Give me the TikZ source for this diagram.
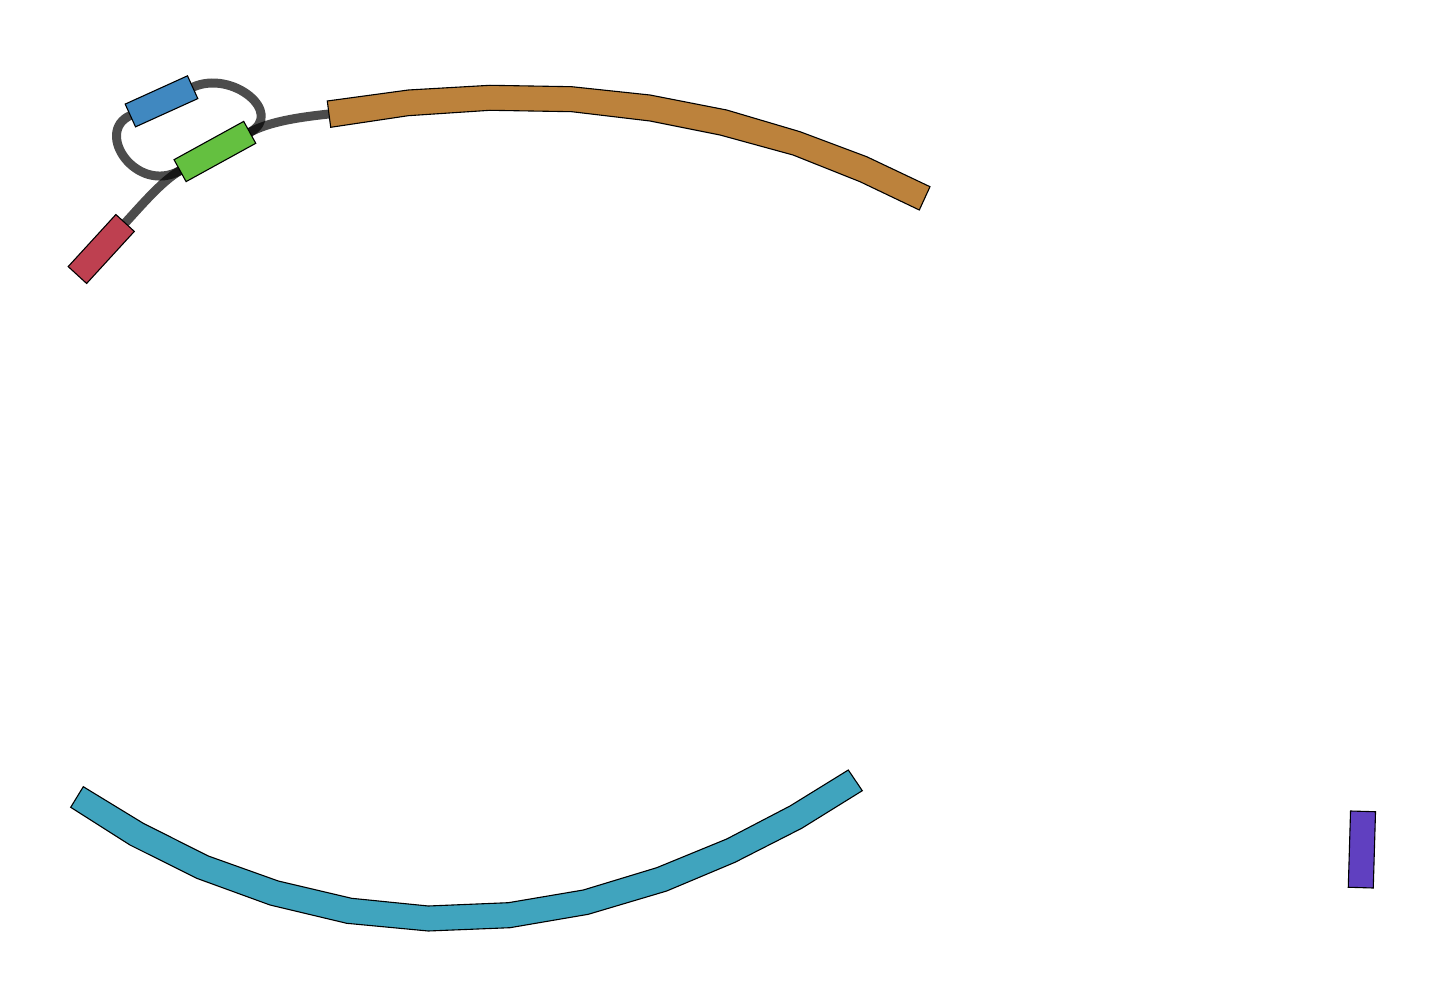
\documentclass[tikz,border=0pt]{standalone}
\usepackage{tikz}
\usetikzlibrary{backgrounds}
\definecolor{segRed}{HTML}{BE4050}
\definecolor{segBlue}{HTML}{4088C0}
\definecolor{segGreen}{HTML}{64C040}
\definecolor{segOrange}{HTML}{BC823C}
\definecolor{segCyan}{HTML}{40A4BE}
\definecolor{segPurple}{HTML}{6040C0}
\begin{document}
\begin{tikzpicture}[x=1pt, y=-1pt,
  contig/.style={rectangle, draw=black, line width=1.1pt, inner sep=0pt, outer sep=0pt, minimum height=25pt},
  band/.style={draw=black, line width=1.1pt, line join=miter},
  link/.style={draw=black, draw opacity=0.7, line width=9pt}]

\useasboundingbox (0,0) rectangle (1444,1000);

\node[contig, fill=segRed, minimum width=70.6pt, rotate=47.5] (red) at (101.25,249) {};
\node[contig, fill=segBlue, minimum width=68.4pt, rotate=24.4] (blue) at (161.5,101.35) {};
\node[contig, fill=segGreen, minimum width=79.5pt, rotate=28.8] (green) at (214.9,151.5) {};
\node[contig, fill=segPurple, minimum width=76.3pt, rotate=88.3] (purple) at (1361.9,849.5) {};

\coordinate (orangeW) at (329,114);
\coordinate (orangeE) at (924.7,198.3);
\coordinate (cyanW) at (77,797);
\coordinate (cyanE) at (855.3,780.3);

\draw[band, fill=segOrange] (327.3,101) -- (408.3,90) -- (490,85.3) -- (571.7,86.7) -- (650,95) -- (726.7,110) -- (800,131.7) -- (866.7,156.7) -- (930,186.7)
  -- (919.3,210) -- (860,181.7) -- (793,155) -- (720,135) -- (650,121) -- (571.7,111.7) -- (490,110.3) -- (408.3,115.7) -- (330.7,127.3) -- cycle;
\draw[band, fill=segCyan] (83.3,786.7) -- (143.3,823.3) -- (208.3,856) -- (278.3,881) -- (351.7,898.3) -- (428.3,906) -- (508.3,902.7) -- (583.3,890) -- (656.7,867.7) -- (726.7,839) -- (790,806) -- (848.3,770)
  -- (862.3,790.7) -- (801.7,828.3) -- (735,862.3) -- (666.7,891) -- (588.3,914.3) -- (510,927.7) -- (428.3,931) -- (346.7,923.3) -- (270,905) -- (196.7,878.3) -- (130,845) -- (70.7,807.3) -- cycle;

\begin{scope}[on background layer]
\draw[link] (red.east) .. controls +(14,-15) and +(-18,10) .. (green.west);
\draw[link] (blue.west) .. controls +(-36.5,16.5) and +(-44,24) .. (green.west);
\draw[link] (blue.east) .. controls +(40,-18) and +(35,-19) .. (green.east);
\draw[link] (green.east) .. controls +(20,-11) and +(-28,3) .. (orangeW);
\end{scope}

\end{tikzpicture}
\end{document}
